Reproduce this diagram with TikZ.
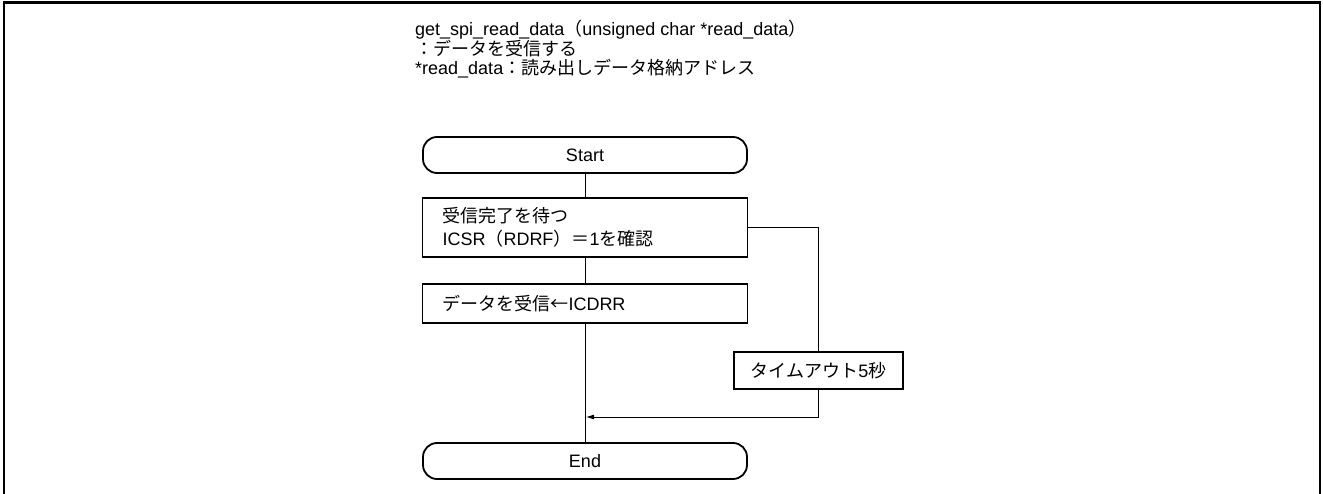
\documentclass[tikz,border=0pt]{standalone}
\usepackage{fontspec}
\setmainfont{Liberation Sans}
\newfontfamily\jp{Noto Sans CJK JP}
\usetikzlibrary{arrows.meta}

\begin{document}
\begin{tikzpicture}[x=1pt,y=-1pt,font=\fontsize{18}{23}\selectfont]
  \tikzstyle{terminal}=[draw,line width=1.8pt,rounded corners=14pt,minimum width=324pt,minimum height=36pt,inner sep=0pt]
  \tikzstyle{process}=[draw,line width=1.8pt,text width=285pt,align=left,inner xsep=20pt,inner ysep=0pt]
  \tikzstyle{subproc}=[draw,line width=1.8pt,minimum width=169pt,minimum height=37pt,inner sep=0pt]
  \tikzstyle{heading}=[anchor=base west,inner sep=0pt]
  \tikzstyle{flow}=[line width=0.8pt]
  \useasboundingbox (0,0) rectangle (1323,494);
  \draw[line width=2.5pt] (4,494) -- (4,2.5) -- (1320,2.5) -- (1320,494);
  \node[heading] (head1) at (415,36) {get\_spi\_read\_data{\jp （}unsigned char *read\_data{\jp ）}};
  \node[heading] (head2) at (415,55.5) {\jp ：データを受信する};
  \node[heading] (head3) at (415,75) {*read\_data{\jp ：読み出しデータ格納アドレス}};
  \node[terminal] (start) at (585,155) {Start};
  \node[process,minimum height=59pt] (wait) at (585,227.5)
    {{\jp 受信完了を待つ}\\ICSR{\jp （}RDRF{\jp ）＝}1{\jp を確認}};
  \node[process,minimum height=39pt] (recv) at (585,303.5) {{\jp データを受信←}ICDRR};
  \node[subproc] (timeout) at (818.5,370.5) {{\jp タイムアウト}5{\jp 秒}};
  \node[terminal] (end) at (585,461) {End};
  \coordinate (merge) at (585,417);
  \draw[flow] (start) -- (wait);
  \draw[flow] (wait) -- (recv);
  \draw[flow] (recv) -- (end);
  \draw[flow] (wait.east) -| (timeout.north);
  \draw[flow,-{Latex[length=8pt,width=5pt]},shorten >=1pt] (timeout.south) |- (merge);
\end{tikzpicture}
\end{document}
